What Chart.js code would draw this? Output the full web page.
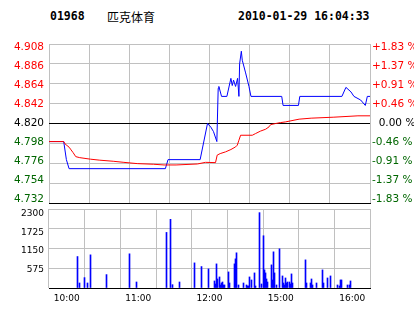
<!DOCTYPE html>
<html>
<head>
<meta charset="utf-8">
<script src="https://cdn.jsdelivr.net/npm/chart.js@4.4.1/dist/chart.umd.min.js"></script>
<style>
  html, body { margin: 0; padding: 0; background: #fff; }
  #wrap { position: relative; width: 414px; height: 314px; overflow: hidden; }
  canvas { position: absolute; left: 0; top: 0; }
  .hd { position: absolute; top: 9px; line-height: 14px; white-space: nowrap; color: #000;
        font: bold 11.5px "DejaVu Sans Mono", monospace; }
  .hd.name { font: 12px "Noto Sans CJK SC", sans-serif; top: 8px; }
</style>
</head>
<body>
<div id="wrap">
  <div class="hd" style="left:50px">01968</div>
  <div class="hd name" style="left:107px">匹克体育</div>
  <div class="hd" style="left:238px">2010-01-29 16:04:33</div>
  <canvas id="priceChart" width="414" height="314"></canvas>
  <canvas id="volChart" width="414" height="314"></canvas>
</div>
<script>
// trading minutes from 10:00 (12:30-14:30 lunch break removed)
const prevClose = 4.82;

// last price (blue)
const priceMin = [0, 11, 13, 15, 87, 89, 113, 118.5, 121, 123, 125.5, 126.5, 127, 129, 133, 136, 137, 138, 139.5, 141, 142, 142.5, 143.8, 144.5, 147, 149.5, 151, 174, 175, 186.5, 187.5, 219, 222, 225.75, 228, 233, 236.5, 238, 240];
const price    = [4.80, 4.80, 4.78, 4.77, 4.77, 4.78, 4.78, 4.82, 4.816, 4.811, 4.80, 4.859, 4.861, 4.85, 4.85, 4.87, 4.862, 4.868, 4.861, 4.87, 4.85, 4.886, 4.90, 4.89, 4.876, 4.861, 4.85, 4.85, 4.84, 4.84, 4.85, 4.85, 4.86, 4.855, 4.85, 4.846, 4.84, 4.85, 4.85];

// average price (red)
const avgMin   = [0, 11, 12, 15, 16.5, 18, 20, 23, 31, 38, 48, 56, 66, 78, 86, 95, 111, 117, 124.5, 125.75, 128, 132, 136, 139.5, 140.75, 142, 143.25, 152, 154.5, 158, 162, 164.5, 165.75, 169.5, 173, 177, 187, 196, 213, 231, 240];
const avgPrice = [4.80, 4.80, 4.7974, 4.7938, 4.7908, 4.7878, 4.7833, 4.7822, 4.7805, 4.7794, 4.7782, 4.777, 4.7756, 4.7749, 4.7741, 4.7741, 4.7752, 4.777, 4.7767, 4.785, 4.7867, 4.7886, 4.7912, 4.7941, 4.796, 4.8015, 4.807, 4.807, 4.8089, 4.8115, 4.8137, 4.8163, 4.8188, 4.82, 4.821, 4.8218, 4.8248, 4.8259, 4.827, 4.8285, 4.8285];

// volume bars
const volMin = [9, 11, 15, 17, 20, 33, 53, 59, 84, 87, 89, 95, 107, 113, 119, 124, 125, 126, 127, 128, 129, 130, 131, 132, 133, 136, 137, 141, 142, 143, 144, 149, 151, 152, 153, 154, 155, 158, 159, 162, 164, 165, 166, 167, 168, 169, 172, 173, 174, 175, 176, 179, 181, 182, 183, 184, 185, 186, 187, 188, 189, 190, 201, 202, 205, 206, 207, 210, 215, 216, 219, 222, 228, 229, 230, 231, 236, 238, 239];
const vol    = [916, 146, 302, 146, 965, 390, 995, 175, 1618, 1999, 97, 175, 731, 624, 556, 205, 117, 702, 263, 322, 88, 146, 175, 88, 88, 468, 146, 702, 848, 1024, 88, 146, 88, 58, 58, 322, 234, 439, 58, 2194, 117, 1521, 527, 439, 263, 175, 673, 234, 1053, 439, 88, 1141, 351, 146, 88, 292, 146, 175, 175, 117, 410, 146, 819, 146, 146, 263, 88, 146, 527, 146, 292, 351, 88, 58, 234, 234, 88, 88, 205];

// tick labels
const priceTicks = [4.908, 4.886, 4.864, 4.842, 4.820, 4.798, 4.776, 4.754, 4.732];
const pctLabels  = ['+1.83 %', '+1.37 %', '+0.91 %', '+0.46 %', '  0.00 %', '-0.46 %', '-0.91 %', '-1.37 %', '-1.83 %'];
const volTicks   = [575, 1150, 1725, 2300];
const timeTicks  = [0, 60, 120, 180, 240];
const timeLabels = ['10:00', '11:00', '12:00', '15:00', '16:00'];

const gray = '#c0c0c0';
const red = '#ff0000';
const green = '#006600';
const blue = '#0000ff';
const labelFont = { family: 'DejaVu Sans', size: 10.5 };
const smallFont = { family: 'DejaVu Sans', size: 9 };

function priceColor(v) {
  if (v > prevClose + 1e-9) return red;
  if (v < prevClose - 1e-9) return green;
  return '#000';
}
const setTicks = values => scale => { scale.ticks = values.map(v => ({ value: v })); };
const fixWidth = w => scale => { scale.width = w; };
const fixHeight = h => scale => { scale.height = h; };

// labels sit slightly inside the grid, so they get their own axes
const priceLabelLo = 4.7277, priceLabelHi = 4.9123;
const volLabelMax = 2455;

new Chart(document.getElementById('priceChart'), {
  type: 'line',
  data: {
    datasets: [
      { data: avgMin.map((m, i) => ({ x: m, y: avgPrice[i] })), borderColor: red, borderWidth: 1, pointRadius: 0, tension: 0 },
      { data: priceMin.map((m, i) => ({ x: m, y: price[i] })), borderColor: blue, borderWidth: 1, pointRadius: 0, tension: 0 }
    ]
  },
  options: {
    responsive: false,
    animation: false,
    events: [],
    layout: { padding: { top: 44, bottom: 111, left: 0, right: 0 } },
    plugins: { legend: { display: false }, tooltip: { enabled: false } },
    scales: {
      x: {
        type: 'linear', min: 0, max: 240,
        ticks: { display: false, stepSize: 30 },
        grid: { color: gray, drawTicks: false },
        border: { color: '#000' }
      },
      y: {
        type: 'linear', position: 'left', weight: 0,
        min: 4.732, max: 4.908,
        afterBuildTicks: setTicks(priceTicks),
        ticks: { display: false },
        grid: { color: ctx => (ctx.tick && (ctx.tick.value === prevClose || ctx.tick.value === 4.732)) ? '#000' : gray, drawTicks: false },
        border: { display: false },
        afterFit: fixWidth(0)
      },
      yL: {
        type: 'linear', position: 'left', weight: 10,
        min: priceLabelLo, max: priceLabelHi,
        afterBuildTicks: setTicks(priceTicks),
        ticks: { font: labelFont, padding: 5, color: ctx => priceColor(ctx.tick.value), callback: v => v.toFixed(3) },
        grid: { display: false, drawTicks: false },
        border: { display: false },
        afterFit: fixWidth(49)
      },
      yR: {
        type: 'linear', position: 'right',
        min: priceLabelLo, max: priceLabelHi,
        afterBuildTicks: setTicks(priceTicks),
        ticks: { font: labelFont, padding: 2, color: ctx => priceColor(ctx.tick.value), callback: v => pctLabels[priceTicks.indexOf(v)] },
        grid: { display: false, drawTicks: false },
        border: { display: false },
        afterFit: fixWidth(44)
      }
    }
  }
});

// snap 1px bars onto whole pixels so they stay sharp
const crispBars = {
  id: 'crispBars',
  afterDatasetsUpdate(chart) {
    chart.getDatasetMeta(0).data.forEach(b => { b.x = Math.floor(b.x) + 0.5; });
  }
};

new Chart(document.getElementById('volChart'), {
  type: 'bar',
  data: {
    datasets: [
      { data: volMin.map((m, i) => ({ x: m, y: vol[i] })), xAxisID: 'x', yAxisID: 'v', backgroundColor: blue, barThickness: 1, borderWidth: 0 }
    ]
  },
  options: {
    responsive: false,
    animation: false,
    events: [],
    layout: { padding: { top: 209, bottom: 0, left: 0, right: 44 } },
    plugins: { legend: { display: false }, tooltip: { enabled: false } },
    scales: {
      x: {
        type: 'linear', min: 0, max: 240,
        afterBuildTicks: setTicks([0, 30, 60, 90, 120, 150, 180, 210, 240]),
        ticks: {
          autoSkip: false, maxRotation: 0, font: smallFont, color: '#000', padding: 5,
          callback: v => { const i = timeTicks.indexOf(v); return i >= 0 ? timeLabels[i] : ''; }
        },
        grid: { color: gray, drawTicks: false },
        border: { color: '#000' },
        afterFit: fixHeight(26)
      },
      v: {
        type: 'linear', position: 'left', weight: 0,
        min: 0, max: 2300,
        afterBuildTicks: setTicks([0].concat(volTicks)),
        ticks: { display: false },
        grid: { color: ctx => (ctx.tick && ctx.tick.value === 0) ? '#000' : gray, drawTicks: false },
        border: { display: false },
        afterFit: fixWidth(0)
      },
      vL: {
        type: 'linear', position: 'left', weight: 10,
        min: 0, max: volLabelMax,
        afterBuildTicks: setTicks(volTicks),
        ticks: { font: smallFont, color: '#000', padding: 5, callback: v => String(v) },
        grid: { display: false, drawTicks: false },
        border: { display: false },
        afterFit: fixWidth(49)
      }
    }
  },
  plugins: [crispBars]
});
</script>
</body>
</html>
